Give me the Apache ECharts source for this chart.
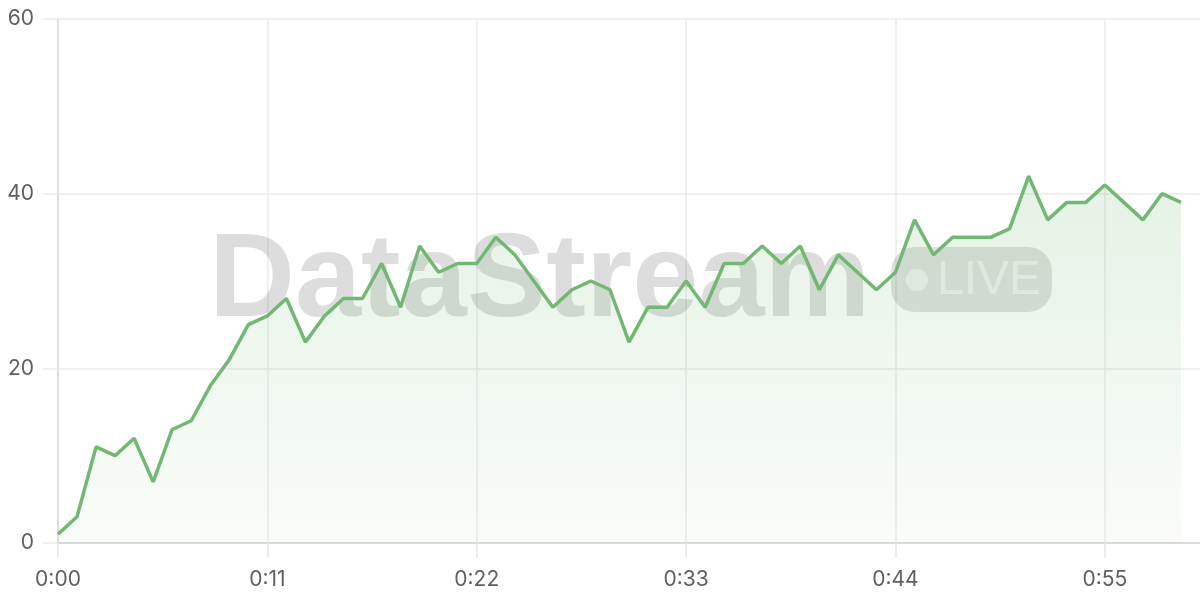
<!DOCTYPE html>
<html>
<head>
<meta charset="utf-8">
<script src="https://cdn.jsdelivr.net/npm/echarts@6/dist/echarts.min.js"></script>
<style>html,body{margin:0;padding:0;background:#fff}#c{width:1200px;height:600px}</style>
</head>
<body>
<div id="c"></div>
<script>
// Seconds elapsed (category labels) 0:00 .. 1:00
const categories = [];
for (let s = 0; s <= 60; s++) categories.push(Math.floor(s / 60) + ':' + String(s % 60).padStart(2, '0'));

// Values per second
const values = [1, 3, 11, 10, 12, 7, 13, 14, 18, 21,
                25, 26, 28, 23, 26, 28, 28, 32, 27, 34,
                31, 32, 32, 35, 33, 30, 27, 29, 30, 29,
                23, 27, 27, 30, 27, 32, 32, 34, 32, 34,
                29, 33, 31, 29, 31, 37, 33, 35, 35, 35,
                36, 42, 37, 39, 39, 41, 39, 37, 40, 39];

const yTicks = [0, 20, 40, 60];

const chart = echarts.init(document.getElementById('c'), null, {renderer: 'canvas'});
const labelFont = {color: '#606060', fontSize: 21, fontFamily: 'Inter, "Helvetica Neue", "Liberation Sans", Arial, sans-serif'};

chart.setOption({
  animation: false,
  backgroundColor: '#fff',
  grid: {left: 58, right: -3, top: 19, bottom: 57},
  xAxis: {
    type: 'category',
    data: categories,
    boundaryGap: false,
    axisLine: {show: true, lineStyle: {color: '#d4d4d4', width: 1.5}},
    axisTick: {show: true, length: 15, interval: 10, lineStyle: {color: '#e6e6e6', width: 1.5}},
    axisLabel: Object.assign({interval: 10, margin: 26}, labelFont),
    splitLine: {show: true, interval: 10, lineStyle: {color: '#ebebeb', width: 1.5}}
  },
  yAxis: {
    type: 'value',
    min: yTicks[0],
    max: yTicks[yTicks.length - 1],
    interval: 20,
    axisLine: {show: true, lineStyle: {color: '#d8d8d8', width: 1.5}},
    axisTick: {show: true, length: 15, lineStyle: {color: '#ebebeb', width: 1.5}},
    axisLabel: Object.assign({margin: 24}, labelFont),
    splitLine: {show: true, lineStyle: {color: '#ebebeb', width: 1.5}}
  },
  graphic: [
    {type: 'text', z: 1, left: 209, top: 224,
     style: {text: 'DataStream', fill: 'rgba(0,0,0,0.135)', font: 'bold 119px "Liberation Sans", Arial, sans-serif'}},
    {type: 'rect', z: 1, shape: {x: 891, y: 247, width: 161, height: 65, r: 24},
     style: {fill: 'rgba(0,0,0,0.12)'}},
    {type: 'circle', z: 1, shape: {cx: 917, cy: 280, r: 11},
     style: {fill: 'rgba(255,255,255,0.55)'}},
    {type: 'text', z: 1, x: 937, y: 281,
     style: {text: 'LIVE', fill: 'rgba(255,255,255,0.55)', textVerticalAlign: 'middle', font: '48px "Liberation Sans", Arial, sans-serif'}}
  ],
  series: [{
    type: 'line',
    data: values,
    symbol: 'none',
    z: 3,
    lineStyle: {color: '#72b872', width: 3.5},
    areaStyle: {
      color: new echarts.graphic.LinearGradient(0, 0, 0, 1, [
        {offset: 0, color: 'rgba(114,184,114,0.26)'},
        {offset: 1, color: 'rgba(114,184,114,0.06)'}
      ])
    }
  }]
});
</script>
</body>
</html>
